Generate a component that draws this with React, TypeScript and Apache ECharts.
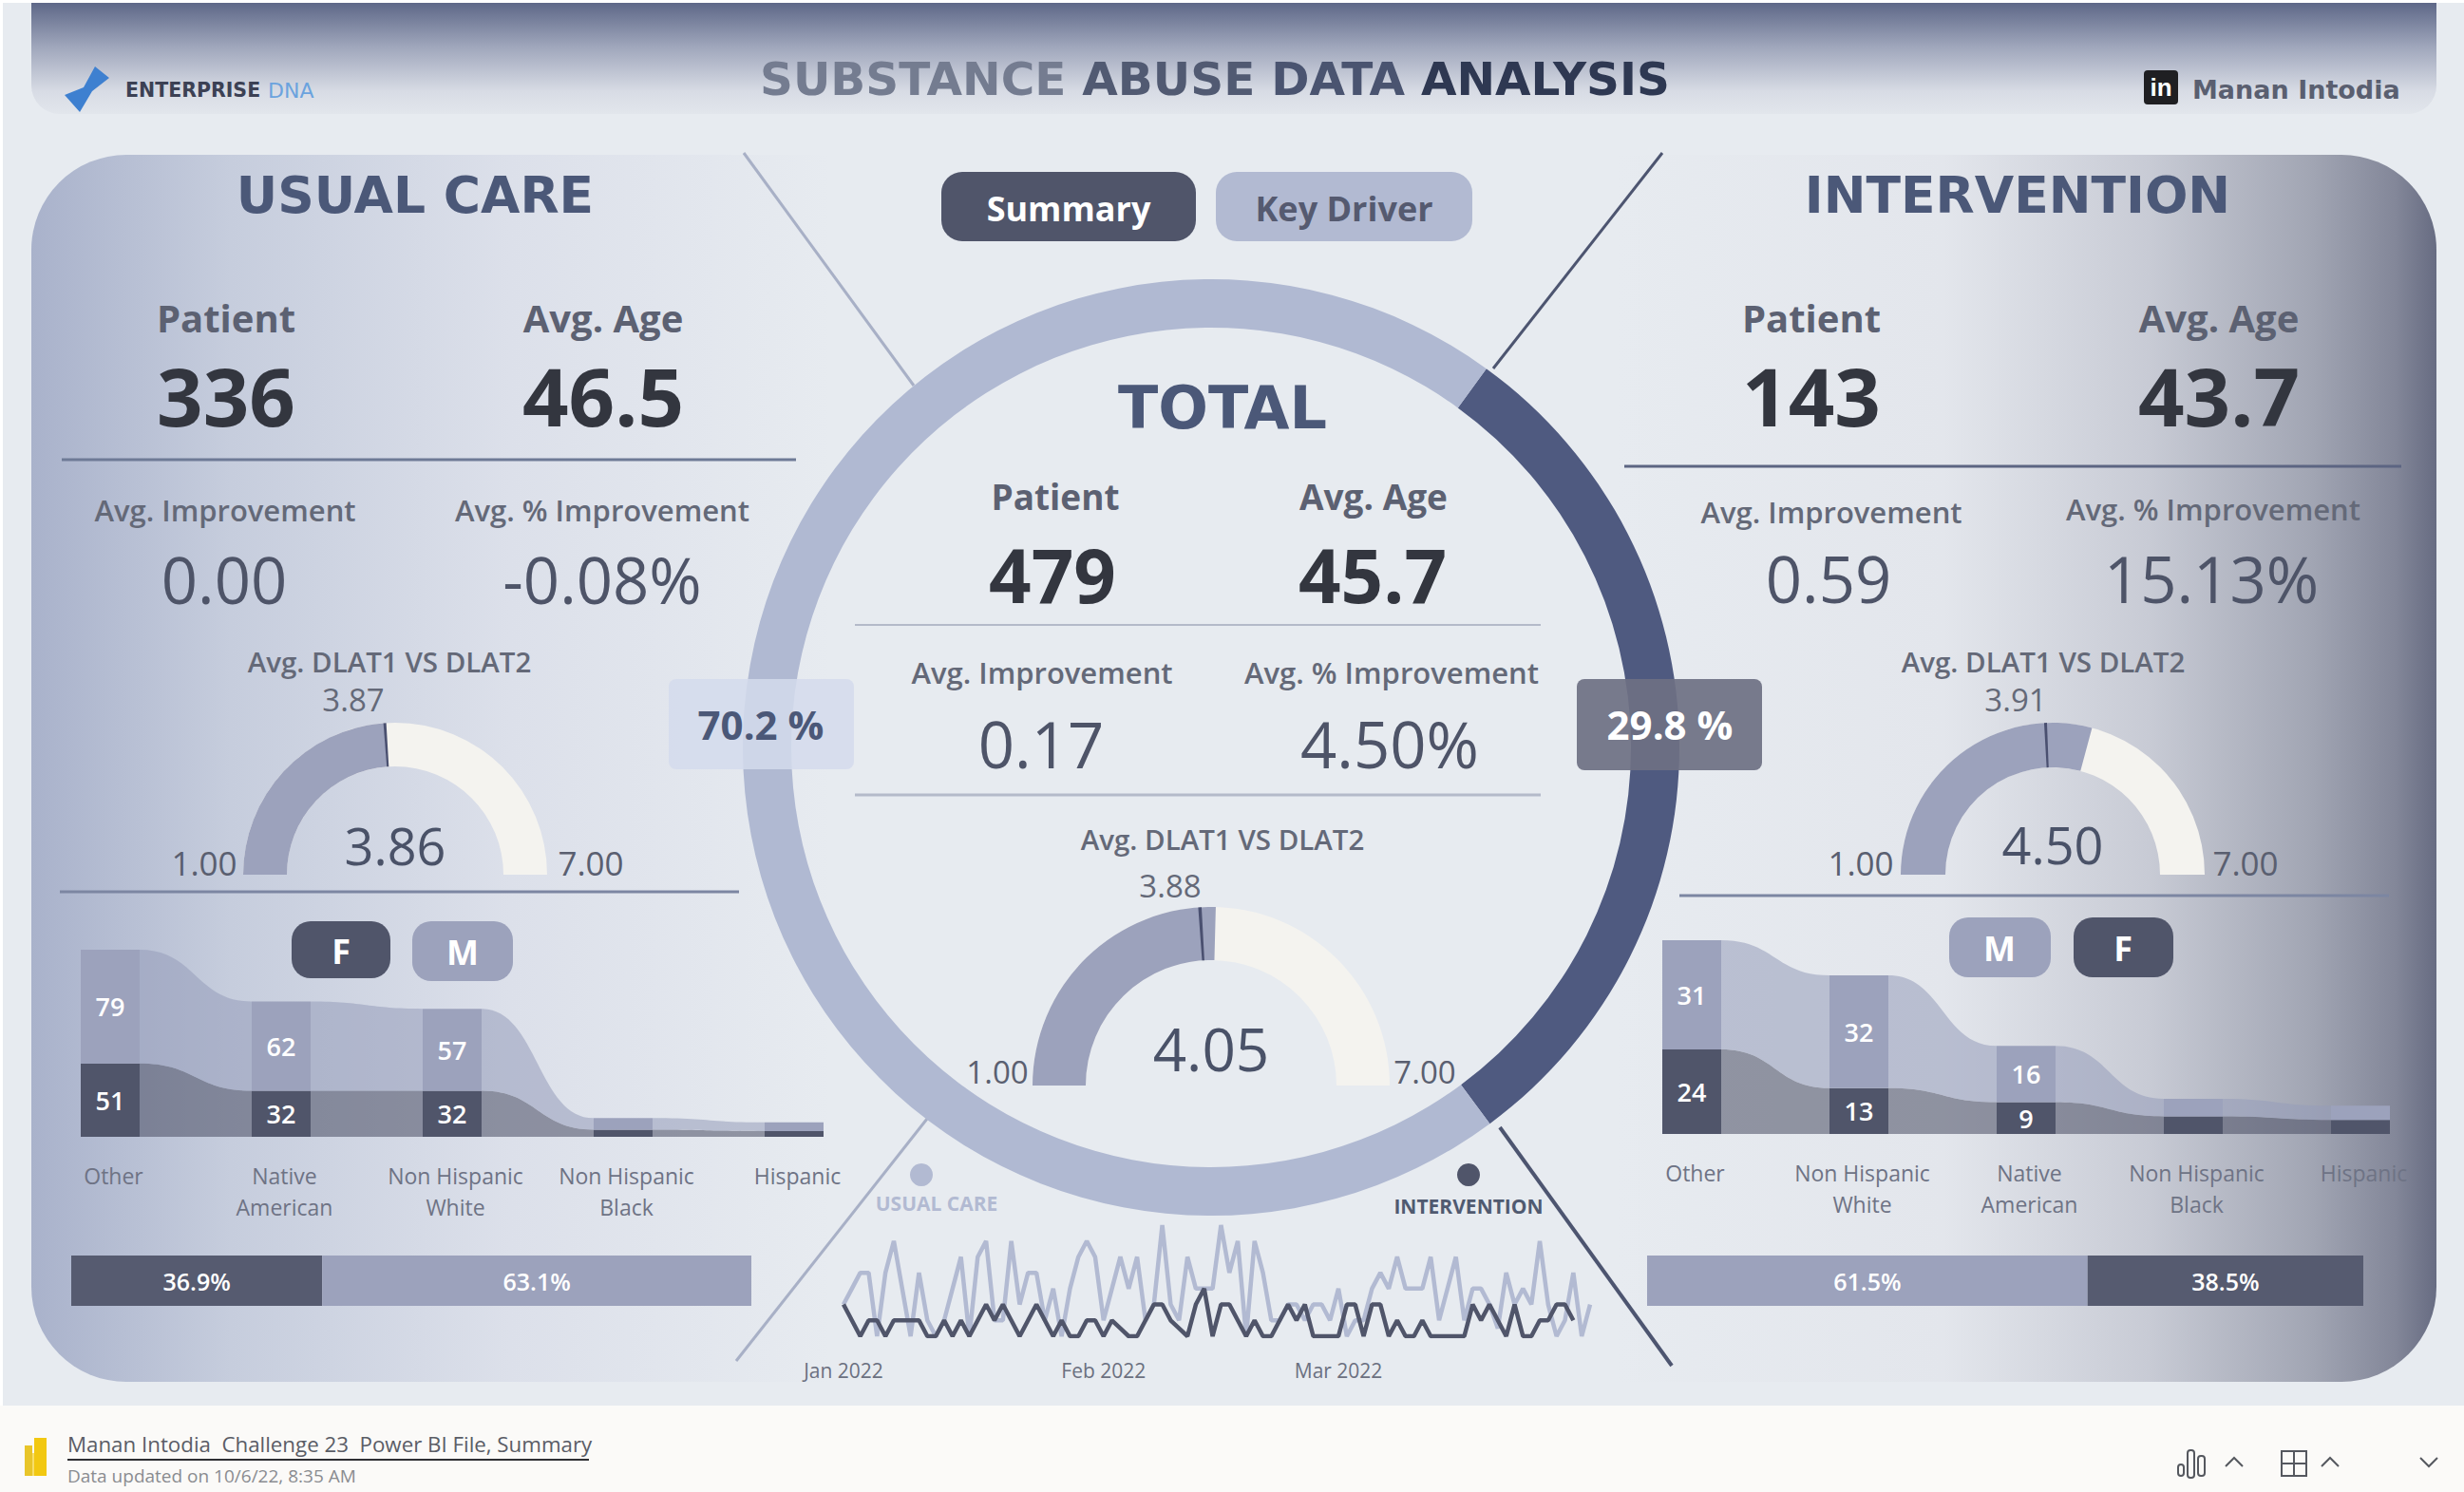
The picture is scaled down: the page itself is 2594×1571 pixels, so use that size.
import React, { useEffect, useRef } from "react";
import * as echarts from "echarts";

const SANS = "'Open Sans', 'Noto Sans', sans-serif";
const HEAD = "'DejaVu Sans', sans-serif";

const ringNames = ["Intervention", "Usual Care"];
const ringValues = [143, 336];

const gaugeActual = [3.86, 4.05, 4.5];
const gaugeTarget = [3.87, 3.88, 3.91];

const usualCats = ["Other", "Native\nAmerican", "Non Hispanic\nWhite", "Non Hispanic\nBlack", "Hispanic"];
const usualF = [51, 32, 32, 5, 4];
const usualM = [79, 62, 57, 8, 6];
const interCats = ["Other", "Non Hispanic\nWhite", "Native\nAmerican", "Non Hispanic\nBlack", "Hispanic"];
const interF = [24, 13, 9, 5, 4];
const interM = [31, 32, 16, 5, 4];

const usualShareF = [36.9];
const usualShareM = [63.1];
const interShareM = [61.5];
const interShareF = [38.5];

const usualDaily = [2,3,4,4,0,4,6,3,0,4,1,0,1,3,5,0,5,6,1,1,6,2,4,4,1,3,0,3,5,6,5,1,3,5,3,5,1,2,7,2,1,5,3,3,3,7,4,6,0,6,4,1,1,2,2,1,2,2,1,3,0,1,1,3,4,3,5,3,3,3,5,1,3,5,1,3,3,2,0.5,4,2,3,2,6,2,0,1,4,0,2];
const interDaily = [2,1,0,1,1,0,1,1,1,1,0,0,1,0,1,0,1,2,1,2,1,0,1,2,1,0,1,0,0,1,1,0,1,0.5,0,0,1,2,2,1,0.5,0,2,3,0,2,2,1,0,1,0,0,1,2,1,2,0,0,0,0,2,2,0,2,2,0,1,0,0,1,0,0,0,0,0,2,1,2,1,0,2,0,0,1,1,2,2,1,null,null];
const monthTicks: Record<number, string> = { 0: "Jan 2022", 31: "Feb 2022", 59: "Mar 2022" };

const DARK = "#50556A";
const MID = "#9CA2BC";
const LIGHT = "#B2BAD2";
const NAVY = "#4B5878";

function T(text: string, x: number, y: number, size: number, fill: string, weight: any = 400, family = SANS, align = "center", z = 5) {
  return { type: "text", z, silent: true, x, y: family === SANS ? y - 2 : y, style: { text, fontSize: size, fill, fontWeight: weight, fontFamily: family, align, verticalAlign: "middle" } };
}
function L(x1: number, y1: number, x2: number, y2: number, stroke: string, lineWidth = 3, z = 1) {
  return { type: "line", z, silent: true, shape: { x1, y1, x2, y2 }, style: { stroke, lineWidth } };
}
function R(x: number, y: number, w: number, h: number, fill: any, r: any = 0, z = 1, opacity = 1) {
  return { type: "rect", z, silent: true, shape: { x, y, width: w, height: h, r }, style: { fill, opacity } };
}
function grad(x2: number, y2: number, stops: [number, string][]) {
  return new echarts.graphic.LinearGradient(0, 0, x2, y2, stops.map(([offset, color]) => ({ offset, color })));
}

function metricBlock(o: any) {
  return [
    T("Patient", o.px, o.py, o.ls, "#5C6172", 700),
    T("Avg. Age", o.ax, o.py, o.ls, "#5C6172", 700),
    T(o.patient, o.npx, o.ny, o.ns, "#33363F", 700),
    T(o.age, o.nax, o.ny, o.ns, "#33363F", 700),
    T("Avg. Improvement", o.ix, o.iy, 31, "#646978", 600),
    T("Avg. % Improvement", o.pix, o.piy ?? o.iy, 31, "#646978", 600),
    T(o.imp, o.vix, o.vy, 67, "#4E5468"),
    T(o.pct, o.vpx, o.vy, 67, "#4E5468"),
  ];
}

function gaugeSeries(center: number[], radius: number, width: number, value: number, target: number, size: number, dy: number) {
  const t = (target - 1) / 6;
  const base = {
    type: "gauge", min: 1, max: 7, startAngle: 180, endAngle: 0, center, radius, silent: true,
    pointer: { show: false }, axisTick: { show: false }, splitLine: { show: false }, axisLabel: { show: false }, title: { show: false },
  };
  return [
    {
      ...base,
      data: [{ value }],
      axisLine: { lineStyle: { width, color: [[1, "#F4F3EF"]] } },
      progress: { show: true, width, itemStyle: { color: MID } },
      detail: { show: true, offsetCenter: [0, dy], fontSize: size, color: "#4A5268", fontFamily: SANS, fontWeight: 400, formatter: (v: number) => v.toFixed(2) },
    },
    {
      ...base,
      z: 3,
      data: [{ value: target }],
      axisLine: { lineStyle: { width, color: [[t - 0.003, "rgba(0,0,0,0)"], [t + 0.003, "#4A5070"], [1, "rgba(0,0,0,0)"]] } },
      progress: { show: false },
      detail: { show: false },
    },
  ];
}

function ribbonSeries(xi: number, low: number[], up: number[], color: string, halfWidth: number) {
  const data = low.slice(0, -1).map((l, i) => [i, l, up[i], low[i + 1], up[i + 1]]);
  return {
    type: "custom", xAxisIndex: xi, yAxisIndex: xi, z: 1, silent: true, data,
    encode: { x: 0, y: [1, 2, 3, 4] },
    renderItem: (_: any, api: any) => {
      const i = api.value(0);
      const a0 = api.coord([i, api.value(1)]);
      const b0 = api.coord([i, api.value(2)]);
      const a1 = api.coord([i + 1, api.value(3)]);
      const b1 = api.coord([i + 1, api.value(4)]);
      const xs = b0[0] + halfWidth;
      const xe = b1[0] - halfWidth;
      const xm = (xs + xe) / 2;
      const d = `M${xs} ${b0[1]}C${xm} ${b0[1]} ${xm} ${b1[1]} ${xe} ${b1[1]}L${xe} ${a1[1]}C${xm} ${a1[1]} ${xm} ${a0[1]} ${xs} ${a0[1]}Z`;
      return { type: "path", shape: { pathData: d }, style: { fill: color } };
    },
  };
}

function stackBars(xi: number, f: number[], m: number[]) {
  const label = {
    show: true, position: "inside", color: "#fff", fontSize: 27, fontFamily: SANS, fontWeight: 600,
    formatter: (p: any) => (p.value >= 9 ? String(p.value) : ""),
  };
  return [
    { type: "bar", xAxisIndex: xi, yAxisIndex: xi, stack: "s" + xi, barWidth: 62, z: 2, silent: true, data: f, itemStyle: { color: DARK }, label },
    { type: "bar", xAxisIndex: xi, yAxisIndex: xi, stack: "s" + xi, barWidth: 62, z: 2, silent: true, data: m, itemStyle: { color: MID }, label },
  ];
}

function shareBars(xi: number, a: number[], ca: string, b: number[], cb: string) {
  const label = { show: true, position: "inside", color: "#fff", fontSize: 25, fontFamily: SANS, fontWeight: 600, formatter: (p: any) => p.value + "%" };
  return [
    { type: "bar", xAxisIndex: xi, yAxisIndex: xi, stack: "p" + xi, barWidth: 53, silent: true, data: a, itemStyle: { color: ca }, label },
    { type: "bar", xAxisIndex: xi, yAxisIndex: xi, stack: "p" + xi, barWidth: 53, silent: true, data: b, itemStyle: { color: cb }, label },
  ];
}

function buildOption() {
  const ribbonX = (data: string[], gridIndex: number) => ({
    type: "category", gridIndex, data, boundaryGap: true,
    axisLine: { show: false }, axisTick: { show: false },
    axisLabel: { margin: 24, color: "#6E7385", fontSize: 23, lineHeight: 33, fontFamily: SANS, interval: 0, padding: [0, 0, 0, 7] },
  });
  const hiddenV = (gridIndex: number, max: number) => ({ type: "value", gridIndex, min: 0, max, show: false, splitLine: { show: false } });
  const sum = (a: number[], b: number[]) => a.map((v, i) => v + b[i]);
  const days = usualDaily.map((_, i) => String(i));
  const titleRun = (fill: string) => ({ fill, fontSize: 48.5, fontWeight: 700, fontFamily: HEAD });

  const graphicElements: any[] = [
    R(3, 3, 2591, 1477, "#E7EBF0", 0, -5),
    R(0, 1480, 2594, 91, "#FBFAF8", 0, -5),
    R(33, 3, 2532, 117, grad(0, 1, [[0, "#5E6888"], [0.4, "#A0A7BC"], [0.8, "#D8DCE5"], [1, "#E2E6EC"]]), [0, 0, 30, 30], -4),
    R(33, 163, 840, 1292, grad(1, 0, [[0, "#A9B2CB"], [0.25, "#C6CDDD"], [0.6, "#DCE0EA"], [1, "#E7EBF0"]]), [100, 0, 0, 100], -4),
    R(1700, 163, 865, 1292, grad(1, 0, [[0, "#E7EBF0"], [0.4, "#E3E6EC"], [0.65, "#C8CBD5"], [0.85, "#A1A5B3"], [0.95, "#838799"], [1, "#676C82"]]), [0, 100, 100, 0], -4),

    { type: "polygon", z: 2, silent: true, shape: { points: [[68, 100], [88, 92], [100, 70], [115, 82], [97, 96], [84, 118]] }, style: { fill: "#3E80D0" } },
    T("ENTERPRISE", 132, 95, 20.5, "#3C4154", 700, HEAD, "left"),
    T("DNA", 282, 95, 22, "#6BA3DE", 400, HEAD, "left"),
    {
      type: "text", z: 5, silent: true, x: 1279, y: 83,
      style: {
        text: "{a|SUBSTANCE} {b|ABUSE} {c|DATA} {d|ANALYSIS}",
        fontSize: 48.5, fontWeight: 700, fontFamily: HEAD, align: "center", verticalAlign: "middle", fill: "#505A72",
        rich: { a: titleRun("#747C90"), b: titleRun("#515A72"), c: titleRun("#4A5470"), d: titleRun("#2E3852") },
      },
    },
    R(2257, 74, 36, 36, "#1F1F22", 4, 3),
    T("in", 2275, 92, 26, "#FFFFFF", 700, "'Liberation Sans', sans-serif"),
    T("Manan Intodia", 2308, 94, 27, "#5A5F70", 700, HEAD, "left"),

    L(783, 161, 962, 406, "#A8B0C6", 3),
    L(1750, 161, 1572, 388, "#4D5570", 3),
    L(775, 1433, 976, 1178, "#A8B0C6", 3),
    L(1579, 1187, 1760, 1438, "#4D5570", 4),

    R(991, 181, 268, 73, DARK, 22, 3),
    T("Summary", 1125, 221, 36, "#FFFFFF", 700),
    R(1280, 181, 270, 73, LIGHT, 22, 3),
    T("Key Driver", 1415, 221, 36, "#555A70", 700),

    T("USUAL CARE", 437, 205, 53.5, NAVY, 700, HEAD),
    T("INTERVENTION", 2124, 205, 53.5, NAVY, 700, HEAD),
    T("TOTAL", 1287, 429, 62, NAVY, 700, HEAD),

    ...metricBlock({ px: 238, ax: 635, py: 336, ls: 40, patient: "336", age: "46.5", npx: 238, nax: 635, ny: 418, ns: 85, ix: 237, pix: 634, iy: 539, imp: "0.00", pct: "-0.08%", vix: 236, vpx: 634, vy: 612 }),
    L(65, 484, 838, 484, "#6E7A96", 3),
    T("Avg. DLAT1 VS DLAT2", 410, 698, 29.5, "#646978", 600),
    T("3.87", 372, 738, 33, "#646978"),
    T("1.00", 215, 910, 35, "#5A5F70"),
    T("7.00", 622, 910, 35, "#5A5F70"),
    L(63, 939, 778, 939, "#7C86A2", 3),
    R(307, 970, 104, 60, DARK, 20, 3),
    T("F", 359, 1003, 36, "#FFFFFF", 700),
    R(434, 970, 106, 63, MID, 20, 3),
    T("M", 487, 1004, 36, "#FFFFFF", 700),

    ...metricBlock({ px: 1907, ax: 2336, py: 336, ls: 40, patient: "143", age: "43.7", npx: 1907, nax: 2336, ny: 418, ns: 85, ix: 1928, pix: 2330, iy: 541, piy: 538, imp: "0.59", pct: "15.13%", vix: 1925, vpx: 2328, vy: 611 }),
    L(1710, 491, 2528, 491, "#5C6582", 3),
    T("Avg. DLAT1 VS DLAT2", 2151, 698, 29.5, "#646978", 600),
    T("3.91", 2122, 738, 33, "#646978"),
    T("1.00", 1959, 910, 35, "#5A5F70"),
    T("7.00", 2364, 910, 35, "#5A5F70"),
    L(1768, 943, 2515, 943, "#7C86A2", 3),
    R(2052, 966, 107, 63, MID, 20, 3),
    T("M", 2105, 1000, 36, "#FFFFFF", 700),
    R(2183, 966, 105, 63, DARK, 20, 3),
    T("F", 2235, 1000, 36, "#FFFFFF", 700),

    T("Patient", 1111, 524, 37, "#5C6172", 700),
    T("Avg. Age", 1446, 524, 37, "#5C6172", 700),
    T("479", 1108, 607, 78, "#33363F", 700),
    T("45.7", 1445, 607, 78, "#33363F", 700),
    L(900, 658, 1622, 658, "#B4BAC9", 2),
    T("Avg. Improvement", 1097, 710, 31, "#646978", 600),
    T("Avg. % Improvement", 1465, 710, 31, "#646978", 600),
    T("0.17", 1096, 785, 67, "#4E5468"),
    T("4.50%", 1463, 785, 67, "#4E5468"),
    L(900, 837, 1622, 837, "#B4BAC9", 3),
    T("Avg. DLAT1 VS DLAT2", 1287, 885, 29.5, "#646978", 600),
    T("3.88", 1232, 934, 33, "#646978"),
    T("1.00", 1050, 1130, 33, "#5A5F70"),
    T("7.00", 1500, 1130, 33, "#5A5F70"),

    R(704, 715, 195, 95, "#D3DAEC", 8, 10, 0.85),
    T("70.2 %", 801, 764, 42, NAVY, 700, SANS, "center", 11),
    R(1660, 715, 195, 96, "#6E7083", 8, 10, 0.92),
    T("29.8 %", 1758, 764, 42, "#FFFFFF", 700, SANS, "center", 11),

    { type: "circle", z: 3, silent: true, shape: { cx: 970, cy: 1237, r: 12 }, style: { fill: LIGHT } },
    T("USUAL CARE", 986, 1269, 21, LIGHT, 700),
    { type: "circle", z: 3, silent: true, shape: { cx: 1546, cy: 1237, r: 12 }, style: { fill: DARK } },
    T("INTERVENTION", 1546, 1272, 21, "#505A70", 700),

    R(34, 1530, 8, 24, "#F7DE6A", 0, 2),
    R(26, 1522, 8, 32, "#E8C52A", 0, 2),
    R(36, 1514, 13, 40, "#F2C811", 0, 2),
    T("Manan Intodia  Challenge 23  Power BI File, Summary", 71, 1522, 22.3, "#5A5D66", 400, SANS, "left"),
    L(71, 1537, 620, 1537, "#2E2F33", 2),
    T("Data updated on 10/6/22, 8:35 AM", 71, 1556, 19, "#8A8C90", 400, SANS, "left"),
    ...[[2293, 1542, 6, 12], [2303, 1527, 7, 29], [2314, 1533, 7, 21]].map(([x, y, w, h]) => ({ type: "rect", z: 2, silent: true, shape: { x, y, width: w, height: h, r: 3 }, style: { fill: "none", stroke: "#55585F", lineWidth: 2 } })),
    ...[[2343, 2352, 2361], [2444, 2453, 2462]].map(([a, b, c]) => ({ type: "polyline", z: 2, silent: true, shape: { points: [[a, 1544], [b, 1535], [c, 1544]] }, style: { stroke: "#55585F", lineWidth: 2, fill: "none" } })),
    { type: "polyline", z: 2, silent: true, shape: { points: [[2548, 1535], [2557, 1544], [2566, 1535]] }, style: { stroke: "#55585F", lineWidth: 2, fill: "none" } },
    { type: "rect", z: 2, silent: true, shape: { x: 2402, y: 1528, width: 26, height: 26 }, style: { fill: "none", stroke: "#55585F", lineWidth: 2 } },
    L(2402, 1541, 2428, 1541, "#55585F", 2, 2),
    L(2415, 1528, 2415, 1554, "#55585F", 2, 2),
  ];

  return {
    animation: false,
    backgroundColor: "#FFFFFF",
    textStyle: { fontFamily: SANS },
    graphic: { elements: graphicElements },
    grid: [
      { left: 26, top: 1000, width: 900, height: 197 },
      { left: 1693, top: 990, width: 880, height: 204 },
      { left: 75, top: 1322, width: 716, height: 53 },
      { left: 1734, top: 1322, width: 754, height: 53 },
      { left: 888, top: 1290, width: 786, height: 117 },
    ],
    xAxis: [
      ribbonX(usualCats, 0),
      ribbonX(interCats, 1),
      { type: "value", gridIndex: 2, min: 0, max: 100, show: false },
      { type: "value", gridIndex: 3, min: 0, max: 100, show: false },
      {
        type: "category", gridIndex: 4, data: days, boundaryGap: false,
        axisLine: { show: false }, axisTick: { show: false },
        axisLabel: { margin: 25, color: "#6B7080", fontSize: 21, fontFamily: SANS, interval: (i: number) => i in monthTicks, formatter: (_: string, i: number) => monthTicks[i] ?? "" },
      },
    ],
    yAxis: [
      hiddenV(0, 130),
      hiddenV(1, 55),
      { type: "category", gridIndex: 2, data: ["Share"], show: false },
      { type: "category", gridIndex: 3, data: ["Share"], show: false },
      hiddenV(4, 7),
    ],
    series: [
      {
        type: "pie", center: [1275, 787], radius: [442, 493], startAngle: 54, silent: true, z: 2,
        label: { show: false }, labelLine: { show: false },
        data: ringNames.map((name, i) => ({ name, value: ringValues[i], itemStyle: { color: i === 0 ? "#4F5A80" : "#B0B9D2" } })),
      },
      ...gaugeSeries([416, 921], 160, 46, gaugeActual[0], gaugeTarget[0], 54, -31),
      ...gaugeSeries([1275, 1143], 188, 56, gaugeActual[1], gaugeTarget[1], 62, -39),
      ...gaugeSeries([2161, 921], 160, 47, gaugeActual[2], gaugeTarget[2], 54, -32),

      ribbonSeries(0, usualF.map(() => 0), usualF, "rgba(72,76,98,0.55)", 31),
      ribbonSeries(0, usualF, sum(usualF, usualM), "rgba(150,156,186,0.55)", 31),
      ...stackBars(0, usualF, usualM),
      ribbonSeries(1, interF.map(() => 0), interF, "rgba(72,76,98,0.55)", 31),
      ribbonSeries(1, interF, sum(interF, interM), "rgba(150,156,186,0.55)", 31),
      ...stackBars(1, interF, interM),

      ...shareBars(2, usualShareF, "#565B70", usualShareM, MID),
      ...shareBars(3, interShareM, MID, interShareF, "#565B70"),

      { type: "line", name: "USUAL CARE", xAxisIndex: 4, yAxisIndex: 4, data: usualDaily, showSymbol: false, silent: true, z: 2, lineStyle: { color: LIGHT, width: 4.5 } },
      { type: "line", name: "INTERVENTION", xAxisIndex: 4, yAxisIndex: 4, data: interDaily, showSymbol: false, silent: true, z: 3, lineStyle: { color: DARK, width: 4.5 } },
    ],
  };
}

export default function App() {
  const ref = useRef<HTMLDivElement>(null);
  useEffect(() => {
    document.body.style.margin = "0";
    const chart = echarts.init(ref.current!, undefined, { renderer: "svg" });
    chart.setOption(buildOption() as any);
    return () => chart.dispose();
  }, []);
  return <div ref={ref} style={{ width: 2594, height: 1571 }} />;
}
